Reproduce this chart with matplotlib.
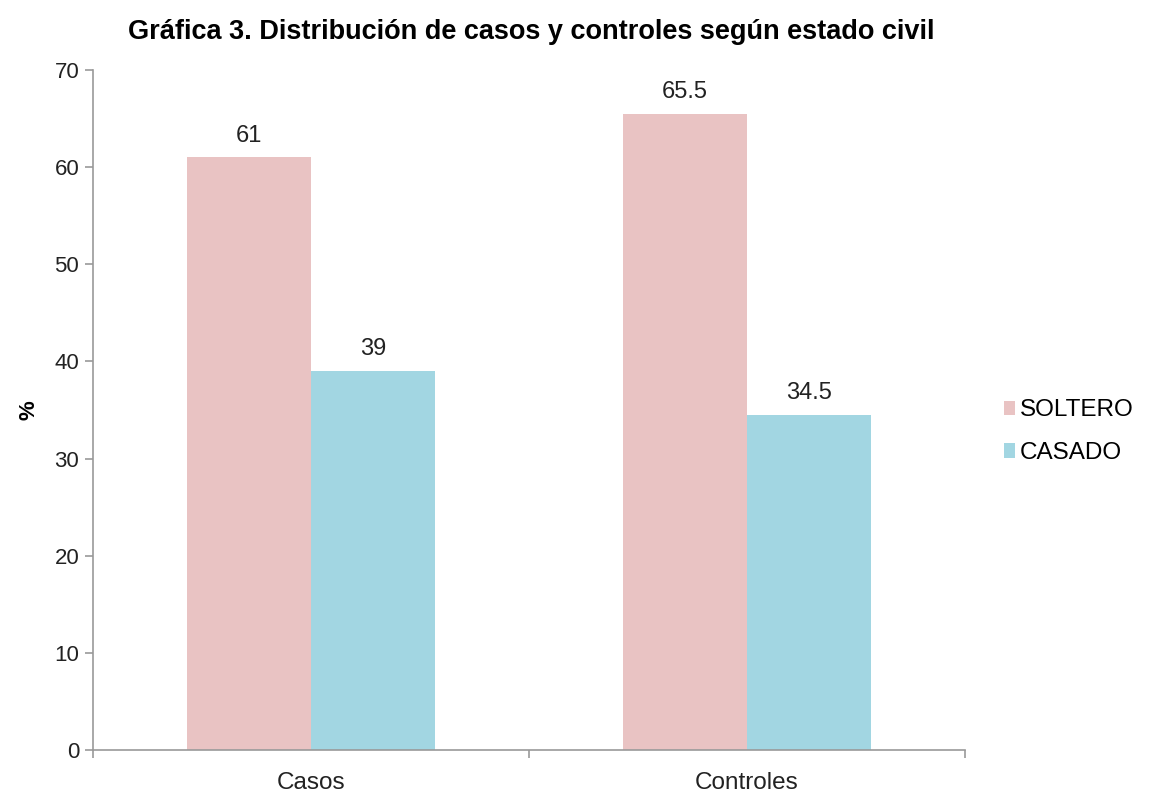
import numpy as np
import matplotlib.pyplot as plt

plt.rcParams['font.family'] = ['Liberation Sans', 'DejaVu Sans']

# datos
categorias = ['Casos', 'Controles']
soltero = [61, 65.5]
casado = [39, 34.5]
series = ['SOLTERO', 'CASADO']
colores = ['#E9C3C3', '#A2D6E2']

fig = plt.figure(figsize=(11.5, 7.98), dpi=100)
ax = fig.add_axes([0.081, 0.0602, 0.758, 0.852])

x = np.arange(len(categorias))
w = 0.285
b1 = ax.bar(x - w / 2, soltero, w, color=colores[0], label=series[0])
b2 = ax.bar(x + w / 2, casado, w, color=colores[1], label=series[1])

for barras, vals in [(b1, soltero), (b2, casado)]:
    for r, v in zip(barras, vals):
        ax.text(r.get_x() + r.get_width() / 2, v + 1.1, f"{v:g}",
                ha='center', va='bottom', fontsize=17, color='#222222')

ax.set_xlim(-0.5, 1.5)
ax.set_ylim(0, 70)
ax.set_yticks(range(0, 71, 10))
ax.set_xticks(x)
ax.set_xticklabels(categorias)
ax.set_xticks([-0.5, 0.5, 1.5], minor=True)
ax.tick_params(axis='x', which='major', length=0, pad=16, labelsize=17.5)
ax.tick_params(axis='x', which='minor', length=6, color='#999999', width=1.2)
ax.tick_params(axis='y', length=6, color='#999999', width=1.2, pad=4, labelsize=16)
ax.tick_params(colors='#222222')
ax.tick_params(color='#999999')

for s in ['top', 'right']:
    ax.spines[s].set_visible(False)
for s in ['left', 'bottom']:
    ax.spines[s].set_color('#999999')
    ax.spines[s].set_linewidth(1.2)

ax.set_ylabel('%', fontsize=16, fontweight='bold')
ax.yaxis.set_label_coords(-0.062, 0.5)
fig.text(0.462, 0.96, 'Gráfica 3. Distribución de casos y controles según estado civil',
         ha='center', va='center', fontsize=19.5, fontweight='bold')

ax.legend(loc='center left', bbox_to_anchor=(1.02, 0.468), frameon=False,
          fontsize=17.5, handlelength=0.45, handleheight=0.55,
          handletextpad=0.2, labelspacing=0.85)

plt.savefig('out.png')
